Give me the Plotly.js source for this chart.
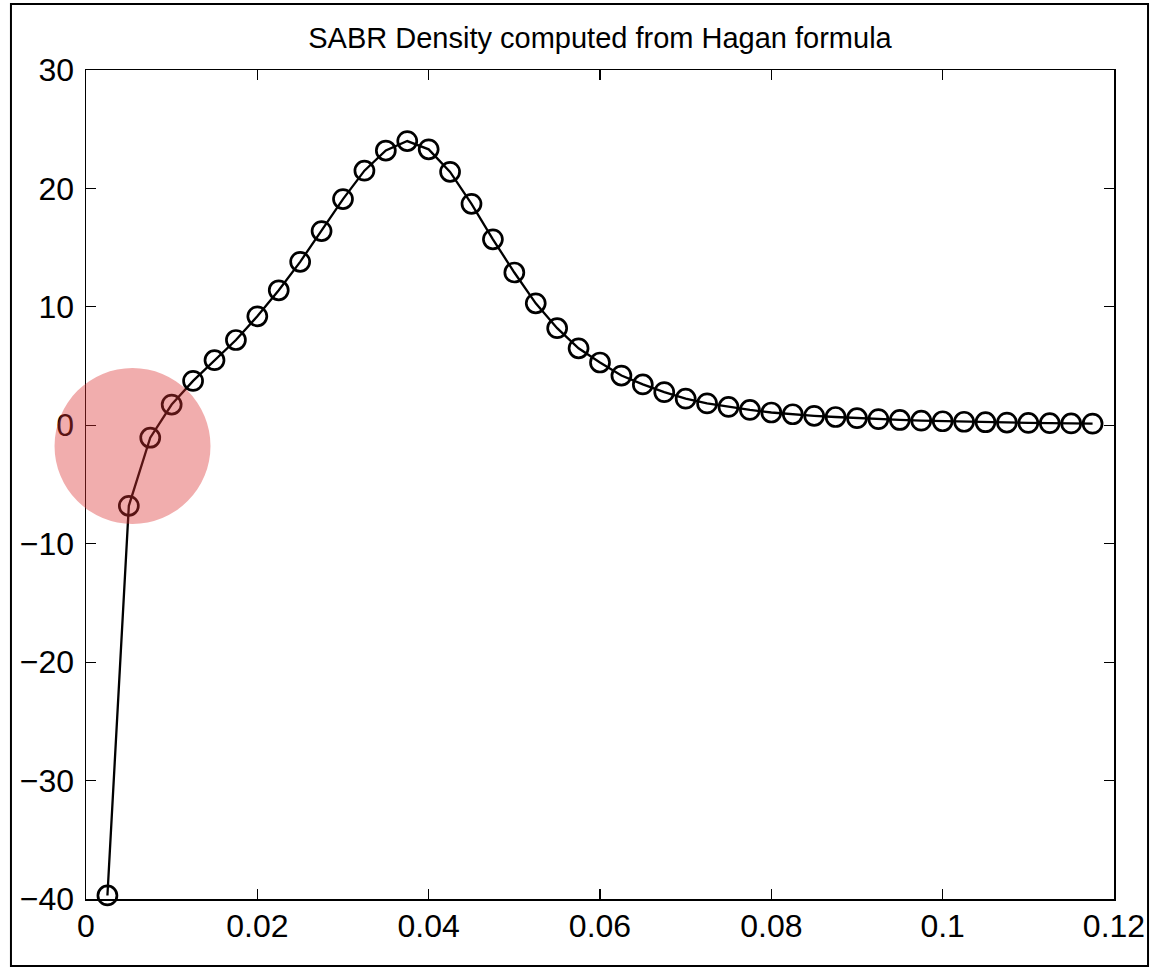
<!DOCTYPE html>
<html>
<head>
<meta charset="utf-8">
<script src="https://cdn.plot.ly/plotly-3.0.1.min.js"></script>
<style>html,body{margin:0;padding:0;background:#fff;}#chart{width:1151px;height:968px;}</style>
</head>
<body>
<div id="chart"></div>
<script>
var strikes = [0.0025,0.005,0.0075,0.01,0.0125,0.015,0.0175,0.02,0.0225,0.025,0.0275,0.03,0.0325,0.035,0.0375,0.04,0.0425,0.045,0.0475,0.05,0.0525,0.055,0.0575,0.06,0.0625,0.065,0.0675,0.07,0.0725,0.075,0.0775,0.08,0.0825,0.085,0.0875,0.09,0.0925,0.095,0.0975,0.1,0.1025,0.105,0.1075,0.11,0.1125,0.115,0.1175];
var density = [-39.7,-6.8,-1.05,1.75,3.75,5.5,7.2,9.2,11.4,13.8,16.4,19.1,21.5,23.2,24.0,23.3,21.4,18.7,15.7,12.9,10.3,8.2,6.5,5.3,4.2,3.45,2.8,2.25,1.85,1.55,1.3,1.08,0.93,0.8,0.7,0.6,0.52,0.45,0.39,0.34,0.3,0.26,0.23,0.2,0.18,0.16,0.14];
var xTicks = [0,0.02,0.04,0.06,0.08,0.1,0.12];
var xTickText = ['0','0.02','0.04','0.06','0.08','0.1','0.12'];
var yTicks = [-40,-30,-20,-10,0,10,20,30];
var chartTitle = 'SABR Density computed from Hagan formula';

var FONT = 'Liberation Sans, Arial, sans-serif';
var trace = {
  x: strikes, y: density, type: 'scatter', mode: 'lines+markers',
  line: {color: '#000', width: 2.3},
  marker: {symbol: 'circle-open', size: 19, color: '#000', line: {color: '#000', width: 2.7}},
  cliponaxis: false,
  hoverinfo: 'x+y'
};
var axisCommon = {
  showgrid: false, zeroline: false, showline: true, mirror: 'ticks',
  linecolor: '#000', linewidth: 1.5, ticks: 'inside', ticklen: 10, tickwidth: 1.2, tickcolor: '#000',
  tickfont: {family: FONT, size: 32, color: '#000'}
};
var layout = {
  width: 1151, height: 968,
  margin: {l: 86, r: 37, t: 70, b: 69},
  paper_bgcolor: '#fff', plot_bgcolor: '#fff',
  showlegend: false,
  title: {text: chartTitle, x: 0.5, xref: 'paper', xanchor: 'center', y: 0.961, yanchor: 'middle',
          font: {family: FONT, size: 29, color: '#000'}},
  xaxis: Object.assign({}, axisCommon, {range: [0, 0.12], tickvals: xTicks, ticktext: xTickText, ticklabelstandoff: -2}),
  yaxis: Object.assign({}, axisCommon, {range: [-40, 30], tickvals: yTicks, ticklabelstandoff: 4}),
  shapes: [
    {type: 'circle', xref: 'paper', yref: 'paper', x0: -0.0306, x1: 0.1211, y0: 0.4524, y1: 0.6405,
     fillcolor: 'rgba(220,50,50,0.4)', line: {width: 0}, layer: 'above'},
    {type: 'rect', xref: 'paper', yref: 'paper', x0: -0.073, x1: 1.0331, y0: -0.0808, y1: 1.0796,
     line: {color: '#000', width: 2}, fillcolor: 'rgba(0,0,0,0)', layer: 'below'}
  ]
};
Plotly.newPlot('chart', [trace], layout, {displayModeBar: false, staticPlot: true});
</script>
</body>
</html>
